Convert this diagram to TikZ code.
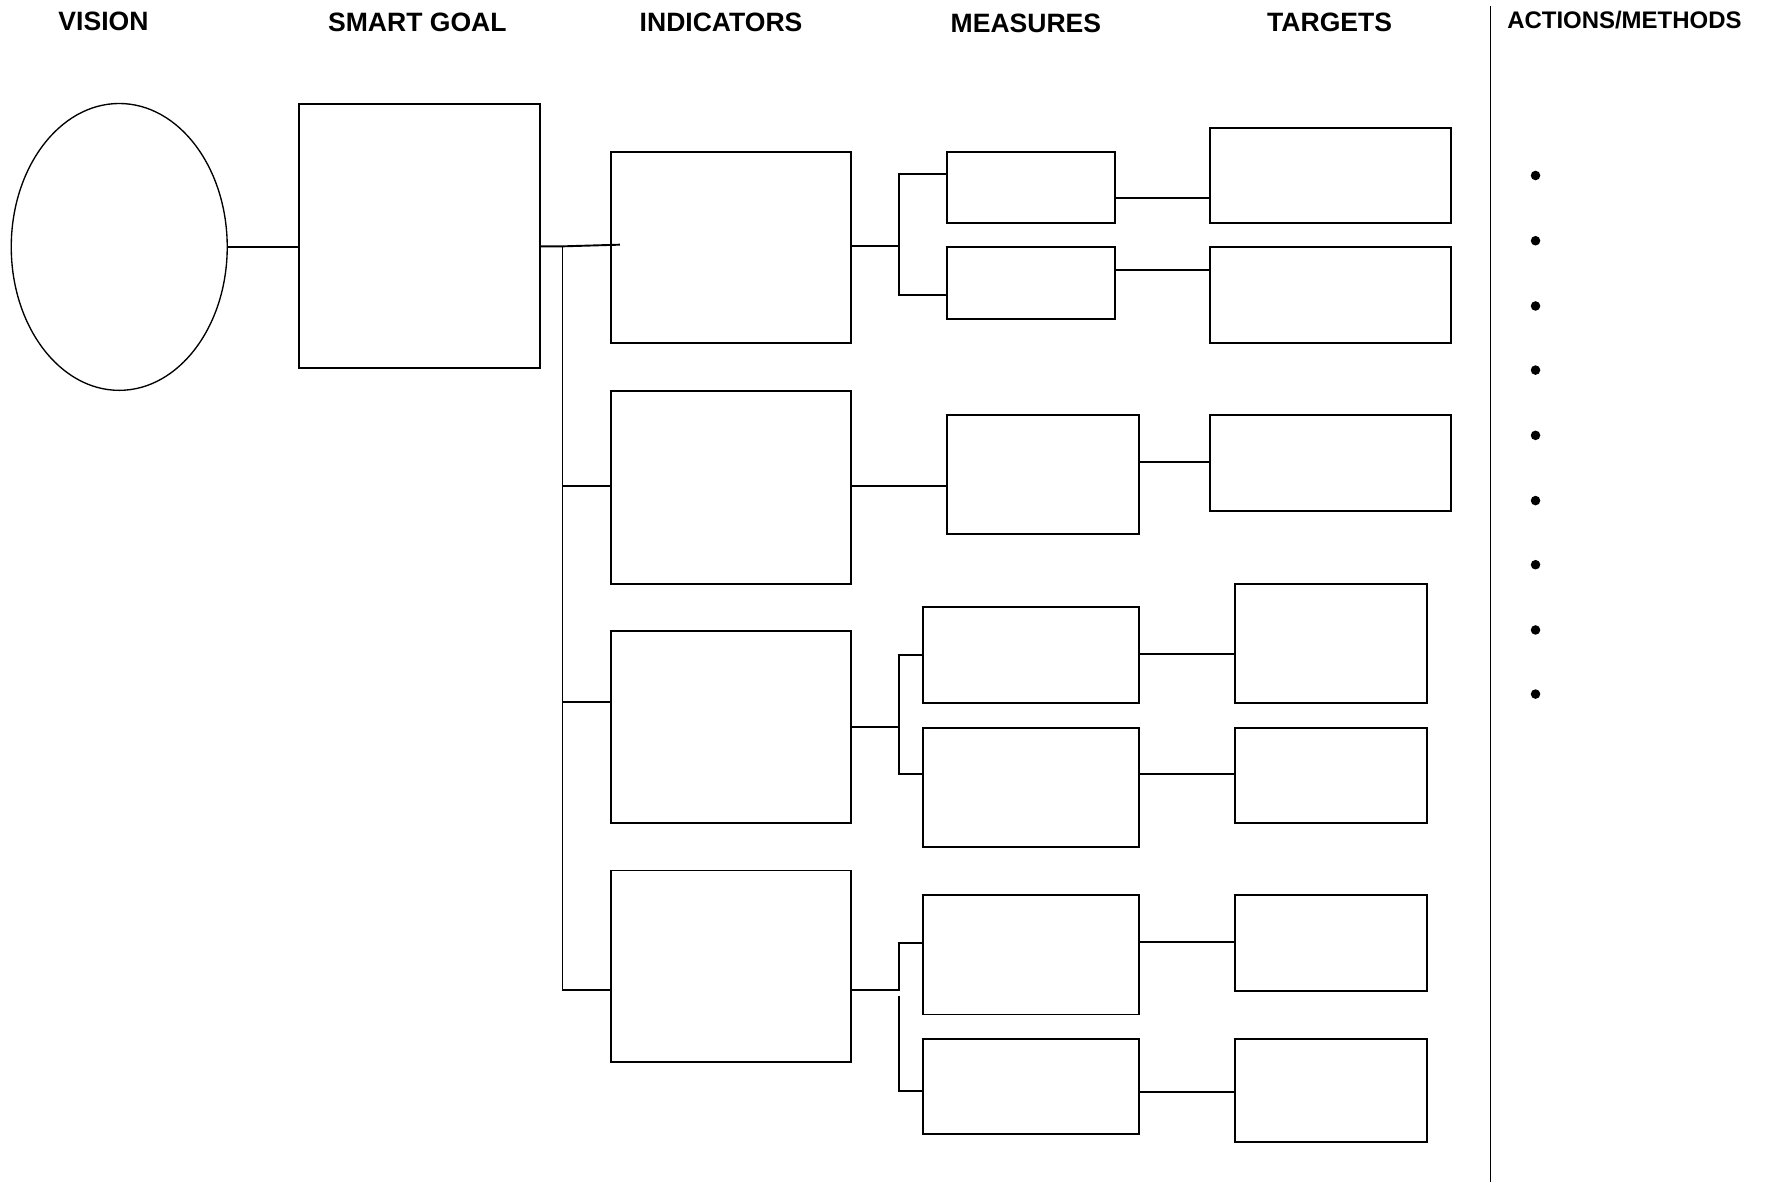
\documentclass[tikz,border=0pt]{standalone}
\usepackage{fontspec}
\setmainfont{Liberation Sans}
\usetikzlibrary{shapes.geometric}
\tikzset{
  box/.style={draw, line width=1.7pt, rectangle, inner sep=0pt, anchor=north west},
  link/.style={line width=1.7pt},
  hdr/.style={font=\bfseries\fontsize{23.6}{28}\selectfont, inner sep=0pt},
  hdrsmall/.style={font=\bfseries\fontsize{21.3}{25}\selectfont, inner sep=0pt},
  dotb/.style={circle, fill=black, inner sep=0pt, minimum size=8.5pt}
}
\newcommand{\bx}[5]{\node[box, minimum width=#4pt, minimum height=#5pt] (#1) at (#2,#3) {};}
\begin{document}
\begin{tikzpicture}[x=1pt,y=-1pt]
\useasboundingbox[fill=white] (0,0) rectangle (1569,1051);
% headers
\node[hdr] (hv) at (92,19) {VISION};
\node[hdr] (hg) at (371,20) {SMART GOAL};
\node[hdr] (hi) at (641,20) {INDICATORS};
\node[hdr] (hm) at (912,21) {MEASURES};
\node[hdr] (ht) at (1182,20) {TARGETS};
\node[hdrsmall] (ha) at (1444,18) {ACTIONS/METHODS};
% separator
\coordinate (s0) at (1325,5);
\coordinate (s1) at (1325,1051);
\draw[line width=1.3pt] (s0) -- (s1);
% vision
\node[draw, ellipse, line width=1.2pt, minimum width=192pt, minimum height=255pt, inner sep=0pt] (vision) at (106,219.5) {};
% smart goal
\bx{goal}{265}{92}{214}{234}
% indicators
\bx{i1}{542}{134}{214}{170}
\bx{i2}{542}{347}{214}{171}
\bx{i3}{542}{560}{214}{171}
\bx{i4}{542}{773}{214}{170}
% measures
\bx{m1a}{841}{134}{149}{63}
\bx{m1b}{841}{219}{149}{64}
\bx{m2}{841}{368}{171}{106}
\bx{m3a}{820}{539}{192}{85}
\bx{m3b}{820}{646}{192}{106}
\bx{m4a}{820}{795}{192}{106}
\bx{m4b}{820}{923}{192}{84}
% targets
\bx{t1a}{1075}{113}{214}{84}
\bx{t1b}{1075}{219}{214}{85}
\bx{t2}{1075}{368}{214}{85}
\bx{t3a}{1097}{518}{171}{106}
\bx{t3b}{1097}{646}{171}{85}
\bx{t4a}{1097}{795}{171}{85}
\bx{t4b}{1097}{923}{171}{91}
% vision -> goal
\draw[link] (vision.east) -- (vision.east -| goal.west);
% goal -> trunk
\coordinate (j0) at (500,219);
\coordinate (j0e) at (551,217.5);
\coordinate (j1) at (500,432);
\coordinate (j2) at (500,624);
\coordinate (j3) at (500,880);
\draw[link] (j0 -| goal.east) -- (j0) -- (j0e);
\draw[link] (j0) -- (j3) -- (j3 -| i4.west);
\draw[link] (j1) -- (j1 -| i2.west);
\draw[link] (j2) -- (j2 -| i3.west);
% group 1
\coordinate (g1) at (799,219);
\coordinate (g1a) at (799,155);
\coordinate (g1b) at (799,262);
\draw[link] (g1 -| i1.east) -- (g1);
\draw[link] (g1a -| m1a.west) -- (g1a) -- (g1b) -- (g1b -| m1b.west);
\coordinate (l1a) at (1000,176);
\coordinate (l1b) at (1000,240);
\draw[link] (l1a -| m1a.east) -- (l1a -| t1a.west);
\draw[link] (l1b -| m1b.east) -- (l1b -| t1b.west);
% group 2
\coordinate (g2) at (800,432);
\draw[link] (g2 -| i2.east) -- (g2 -| m2.west);
\coordinate (l2) at (1040,411);
\draw[link] (l2 -| m2.east) -- (l2 -| t2.west);
% group 3
\coordinate (g3) at (799,646);
\coordinate (g3a) at (799,582);
\coordinate (g3b) at (799,688);
\draw[link] (g3 -| i3.east) -- (g3);
\draw[link] (g3a -| m3a.west) -- (g3a) -- (g3b) -- (g3b -| m3b.west);
\coordinate (l3a) at (1050,581);
\coordinate (l3b) at (1050,688);
\draw[link] (l3a -| m3a.east) -- (l3a -| t3a.west);
\draw[link] (l3b -| m3b.east) -- (l3b -| t3b.west);
% group 4
\coordinate (g4) at (799,880);
\coordinate (g4a) at (799,838);
\coordinate (g4c) at (799,885);
\coordinate (g4b) at (799,970);
\draw[link] (g4 -| i4.east) -- (g4) -- (g4a) -- (g4a -| m4a.west);
\draw[link] (g4c) -- (g4b) -- (g4b -| m4b.west);
\coordinate (l4a) at (1050,837);
\coordinate (l4b) at (1050,971);
\draw[link] (l4a -| m4a.east) -- (l4a -| t4a.west);
\draw[link] (l4b -| m4b.east) -- (l4b -| t4b.west);
% bullets
\foreach \k/\yy in {1/156,2/214,3/272,4/329,5/387,6/445,7/502,8/560,9/617}{
  \node[dotb] (b\k) at (1365,\yy) {};
}
\end{tikzpicture}
\end{document}
